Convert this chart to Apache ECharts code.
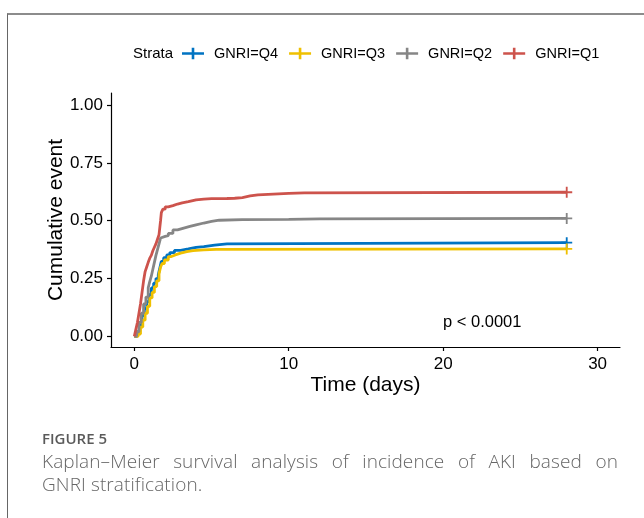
<!DOCTYPE html>
<html>
<head>
<meta charset="utf-8">
<script src="https://cdn.jsdelivr.net/npm/echarts@6/dist/echarts.min.js"></script>
<style>
  html, body { margin: 0; padding: 0; background: #fff; }
  #page { position: relative; width: 644px; height: 518px; overflow: hidden; }
  #frame { position: absolute; left: 7px; top: 13px; right: 0; bottom: 0;
           border-top: 2px solid #8c8c8c; border-left: 1px solid #666; }
  #chart { position: absolute; left: 0; top: 0; width: 644px; height: 518px; }
  #caption { position: absolute; left: 42px; top: 428px; width: 576px;
             font-family: "Open Sans", sans-serif; color: #666; }
  #caption .fig { font-size: 15px; font-weight: 600; color: #5a5a5a; line-height: 20px; }
  #caption .txt { font-size: 19px; font-weight: 300; line-height: 23px; letter-spacing: 0.1px; white-space: nowrap; }
  #caption .l1 { margin-top: 2px; text-align: justify; text-align-last: justify; }
</style>
</head>
<body>
<div id="page">
  <div id="frame"></div>
  <div id="chart"></div>
  <div id="caption">
    <div class="fig">FIGURE 5</div>
    <div class="txt l1">Kaplan&#8211;Meier survival analysis of incidence of AKI based on</div>
    <div class="txt">GNRI stratification.</div>
  </div>
</div>
<script>
// ------------------------ data ------------------------
var strataNames = ['GNRI=Q4', 'GNRI=Q3', 'GNRI=Q2', 'GNRI=Q1'];
var strataColors = ['#0073C2', '#EFC000', '#868686', '#CD534C'];

var q4Times = [0, 0.2, 0.35, 0.5, 0.65, 0.8, 0.95, 1.1, 1.25, 1.4, 1.55, 1.65, 1.75, 1.9, 2.1, 2.3, 2.6, 3.0, 3.5, 4.0, 4.5, 5.2, 6.0, 10.5, 28];
var q4Cum   = [0, 0.02, 0.05, 0.09, 0.12, 0.15, 0.18, 0.209, 0.23, 0.25, 0.266, 0.295, 0.324, 0.34, 0.352, 0.362, 0.372, 0.378, 0.385, 0.388, 0.394, 0.40, 0.401, 0.405, 0.405];

var q3Times = [0, 0.25, 0.4, 0.55, 0.7, 0.85, 1.0, 1.15, 1.3, 1.45, 1.6, 1.7, 1.8, 1.95, 2.2, 2.4, 2.65, 3.0, 3.4, 3.8, 4.5, 5.3, 28];
var q3Cum   = [0, 0.01, 0.04, 0.07, 0.1, 0.13, 0.166, 0.19, 0.215, 0.24, 0.27, 0.3, 0.315, 0.33, 0.345, 0.352, 0.36, 0.366, 0.371, 0.374, 0.376, 0.378, 0.378];

var q2Times = [0, 0.15, 0.3, 0.45, 0.6, 0.75, 0.9, 1.0, 1.1, 1.2, 1.3, 1.4, 1.5, 1.6, 1.7, 1.75, 2.0, 2.2, 2.5, 2.8, 3.2, 3.6, 4.0, 4.5, 5.0, 5.5, 7.0, 10.0, 12.0, 28];
var q2Cum   = [0, 0.02, 0.06, 0.1, 0.14, 0.17, 0.21, 0.237, 0.26, 0.29, 0.32, 0.35, 0.375, 0.40, 0.425, 0.432, 0.435, 0.445, 0.46, 0.468, 0.475, 0.482, 0.49, 0.497, 0.502, 0.505, 0.506, 0.508, 0.51, 0.51];

var q1Times = [0, 0.1, 0.2, 0.3, 0.4, 0.5, 0.6, 0.7, 0.8, 0.9, 1.0, 1.1, 1.2, 1.3, 1.4, 1.5, 1.6, 1.65, 1.7, 1.75, 1.85, 2.0, 2.2, 2.5, 2.8, 3.1, 3.5, 4.0, 4.5, 5.0, 6.0, 6.5, 7.0, 7.5, 8.0, 9.0, 10.0, 11.0, 28];
var q1Cum   = [0, 0.03, 0.06, 0.1, 0.14, 0.19, 0.24, 0.28, 0.30, 0.32, 0.338, 0.35, 0.37, 0.385, 0.40, 0.42, 0.44, 0.47, 0.50, 0.535, 0.55, 0.56, 0.565, 0.572, 0.577, 0.582, 0.59, 0.593, 0.595, 0.596, 0.597, 0.60, 0.607, 0.612, 0.615, 0.618, 0.62, 0.623, 0.623];

var xTicks = [0, 10, 20, 30];
var yTicks = [0, 0.25, 0.5, 0.75, 1];
var pText = 'p < 0.0001';

// ------------------------ chart ------------------------
var allTimes = [q4Times, q3Times, q2Times, q1Times];
var allCum = [q4Cum, q3Cum, q2Cum, q1Cum];

var plusPath = 'path://M0,5L12,5L12,7L0,7Z M5,0L7,0L7,12L5,12Z';
var legendIcon = 'path://M0,4.5L22,4.5L22,7.2L0,7.2Z M9.7,0L12.3,0L12.3,11.7L9.7,11.7Z';
var font = '"Liberation Sans", Arial, sans-serif';

function zip(ts, vs) {
    var out = [];
    for (var i = 0; i < ts.length; i++) out.push([ts[i], vs[i]]);
    return out;
}

var series = strataNames.map(function (name, i) {
    var ts = allTimes[i], vs = allCum[i];
    return {
        name: name,
        type: 'line',
        step: 'end',
        symbol: 'none',
        data: zip(ts, vs),
        lineStyle: { color: strataColors[i], width: 2.8 },
        itemStyle: { color: strataColors[i] },
        z: 2 + i,
        markPoint: {
            symbol: plusPath,
            symbolSize: 11,
            label: { show: false },
            itemStyle: { color: strataColors[i] },
            data: [{ coord: [ts[ts.length - 1], vs[vs.length - 1]] }]
        }
    };
});

var option = {
    animation: false,
    backgroundColor: 'transparent',
    textStyle: { fontFamily: font },
    grid: { left: 111, top: 93, width: 509, height: 254 },
    legend: {
        left: 182,
        top: 46,
        padding: 0,
        itemWidth: 22,
        itemHeight: 12,
        itemGap: 11,
        data: strataNames.map(function (n) { return { name: n, icon: legendIcon }; }),
        textStyle: { fontSize: 14.5, color: '#000', fontFamily: font, padding: [0, 0, 0, 5] }
    },
    xAxis: {
        type: 'value',
        min: -1.51,
        max: 31.45,
        name: 'Time (days)',
        nameLocation: 'middle',
        nameGap: 28,
        nameMoveOverlap: false,
        nameTextStyle: { fontSize: 21, color: '#000', fontFamily: font },
        axisLine: { onZero: false, lineStyle: { color: '#000', width: 1.2 } },
        axisTick: { length: 4, customValues: xTicks, lineStyle: { color: '#000', width: 1.2 } },
        axisLabel: { customValues: xTicks, fontSize: 17, color: '#000', margin: 9, fontFamily: font },
        splitLine: { show: false }
    },
    yAxis: {
        type: 'value',
        min: -0.046,
        max: 1.052,
        name: 'Cumulative event',
        nameLocation: 'middle',
        nameGap: 44,
        nameMoveOverlap: false,
        nameTextStyle: { fontSize: 21, color: '#000', fontFamily: font },
        axisLine: { show: true, onZero: false, lineStyle: { color: '#000', width: 1.2 } },
        axisTick: { show: true, length: 4, customValues: yTicks, lineStyle: { color: '#000', width: 1.2 } },
        axisLabel: {
            customValues: yTicks, fontSize: 17, color: '#000', margin: 8, fontFamily: font,
            formatter: function (v) { return v.toFixed(2); }
        },
        splitLine: { show: false }
    },
    graphic: [
        {
            type: 'text', left: 133, top: 46,
            style: { text: 'Strata', fontSize: 15, fill: '#000', fontFamily: font }
        },
        {
            type: 'text', left: 443, top: 314,
            style: { text: pText, fontSize: 16.5, fill: '#000', fontFamily: font }
        }
    ],
    series: series
};

var myChart = echarts.init(document.getElementById('chart'), null, { renderer: 'canvas' });
myChart.setOption(option);
</script>
</body>
</html>
